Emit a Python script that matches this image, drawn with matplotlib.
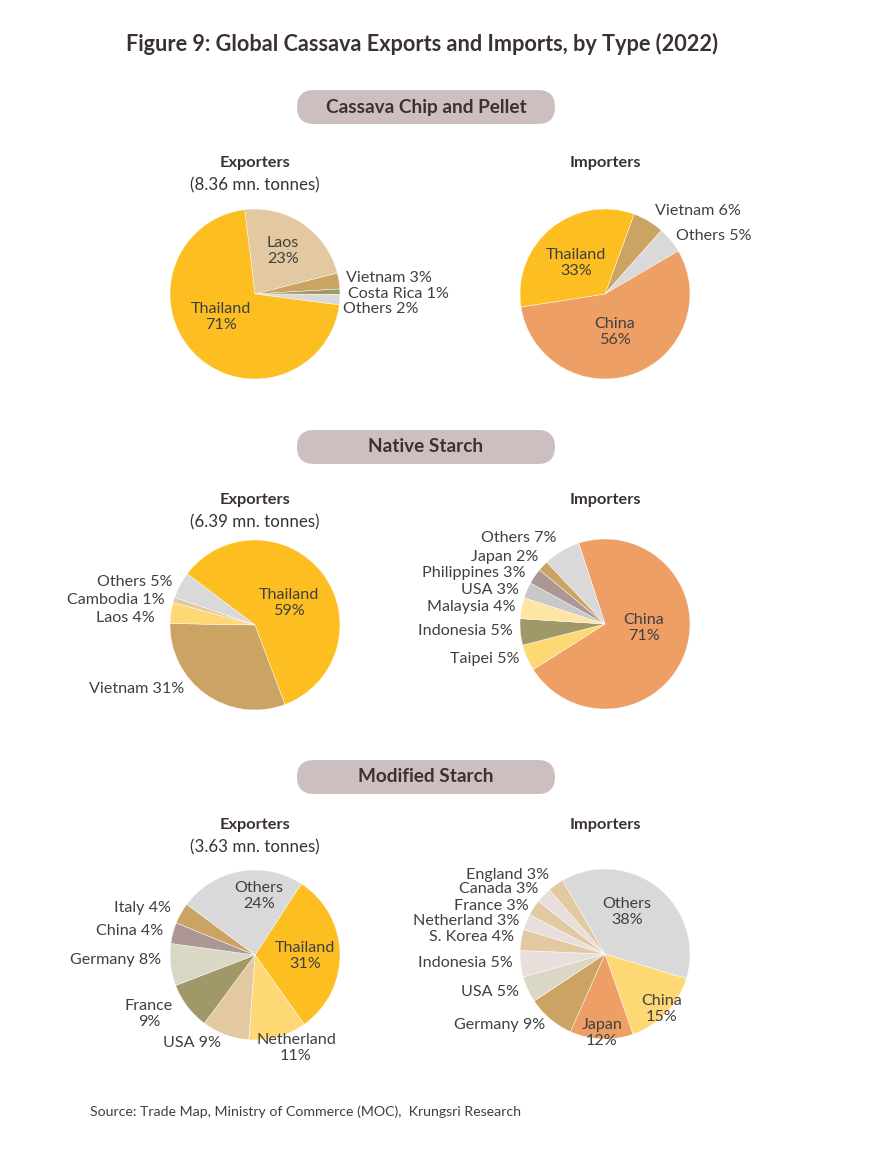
import matplotlib.pyplot as plt
from matplotlib.patches import FancyBboxPatch

plt.rcParams['font.family'] = ['Lato', 'DejaVu Sans']

# data
chip_exp_labels = ['Laos', 'Vietnam', 'Costa Rica', 'Others', 'Thailand']
chip_exp_values = [23, 3, 1, 2, 71]
chip_imp_labels = ['Vietnam', 'Others', 'China', 'Thailand']
chip_imp_values = [6, 5, 56, 33]

nat_exp_labels = ['Thailand', 'Vietnam', 'Laos', 'Cambodia', 'Others']
nat_exp_values = [59, 31, 4, 1, 5]
nat_imp_labels = ['China', 'Taipei', 'Indonesia', 'Malaysia', 'USA', 'Philippines', 'Japan', 'Others']
nat_imp_values = [71, 5, 5, 4, 3, 3, 2, 7]

mod_exp_labels = ['Thailand', 'Netherland', 'USA', 'France', 'Germany', 'China', 'Italy', 'Others']
mod_exp_values = [31, 11, 9, 9, 8, 4, 4, 24]
mod_imp_labels = ['Others', 'China', 'Japan', 'Germany', 'USA', 'Indonesia', 'S. Korea',
                  'Netherland', 'France', 'Canada', 'England']
mod_imp_values = [38, 15, 12, 9, 5, 5, 4, 3, 3, 3, 3]

sections = ['Cassava Chip and Pellet', 'Native Starch', 'Modified Starch']
exp_totals = ['8.36', '6.39', '3.63']

YEL = '#FDBE21'
BEI = '#E2C9A2'
TAN = '#CBA463'
OLI = '#A09868'
GRY = '#D9D9D9'
ORA = '#ED9F66'
LYE = '#FFD876'
PYE = '#FFE5A3'
MGR = '#C8C8C8'
MAU = '#AC9795'
STO = '#DAD7C4'
PNK = '#E8DEDC'

TXT = '#404040'
H = 1158

fig = plt.figure(figsize=(8.7, 11.58), dpi=100)
ax = fig.add_axes([0, 0, 1, 1])


def pie(cx, cy, labels, values, colors, start, lab):
    # lab: per label (x, y, ha, two lines?) in pixels
    ax.pie(values, colors=colors, startangle=start, counterclock=False,
           center=(cx, H - cy), radius=85, frame=True,
           wedgeprops=dict(edgecolor='white', linewidth=0.3))
    for name, v, (x, y, ha, two) in zip(labels, values, lab):
        s = f'{name}\n{v}%' if two else f'{name} {v}%'
        ax.text(x, H - y, s, ha=ha, va='center', fontsize=11.6, color=TXT,
                linespacing=1.15)


pie(255, 294, chip_exp_labels, chip_exp_values, [BEI, TAN, OLI, GRY, YEL], 97,
    [(283, 251, 'center', True), (346, 278, 'left', False), (348, 294, 'left', False),
     (343, 309, 'left', False), (221, 317, 'center', True)])
pie(605, 294, chip_imp_labels, chip_imp_values, [TAN, GRY, ORA, YEL], 70,
    [(655, 211, 'left', False), (676, 236, 'left', False),
     (615, 332, 'center', True), (576, 263, 'center', True)])

pie(255, 625, nat_exp_labels, nat_exp_values, [YEL, TAN, LYE, BEI, GRY], 143,
    [(289, 603, 'center', True), (184, 689, 'right', False), (155, 618, 'right', False),
     (165, 600, 'right', False), (173, 582, 'right', False)])
pie(605, 624, nat_imp_labels, nat_imp_values, [ORA, LYE, OLI, PYE, MGR, MAU, TAN, GRY], 108,
    [(644, 628, 'center', True), (520, 659, 'right', False), (513, 631, 'right', False),
     (516, 607, 'right', False), (519, 590, 'right', False), (526, 573, 'right', False),
     (538, 557, 'right', False), (557, 538, 'right', False)])

pie(255, 955, mod_exp_labels, mod_exp_values, [YEL, LYE, BEI, OLI, STO, MAU, TAN, GRY], 57,
    [(305, 956, 'center', True), (296, 1048, 'center', True), (221, 1043, 'right', False),
     (149, 1014, 'center', True), (161, 960, 'right', False), (163, 931, 'right', False),
     (171, 908, 'right', False), (259, 896, 'center', True)])
pie(605, 954, mod_imp_labels, mod_imp_values,
    [GRY, LYE, ORA, TAN, STO, PNK, BEI, PNK, BEI, PNK, BEI], 120,
    [(627, 912, 'center', True), (662, 1009, 'center', True), (602, 1033, 'center', True),
     (545, 1025, 'right', False), (519, 992, 'right', False), (513, 963, 'right', False),
     (514, 937, 'right', False), (519, 921, 'right', False), (529, 906, 'right', False),
     (538, 889, 'right', False), (549, 875, 'right', False)])

ax.set_xlim(0, 870)
ax.set_ylim(0, H)
ax.set_aspect('auto')
ax.axis('off')

ax.text(422, H - 44, 'Figure 9: Global Cassava Exports and Imports, by Type (2022)',
        ha='center', va='center', fontsize=15.6, fontweight='bold', color='#3B3134')

for name, py, sy, tot in zip(sections, [107, 447, 777], [163, 500, 825], exp_totals):
    ax.add_patch(FancyBboxPatch((297, H - py - 17), 258, 34,
                                boxstyle='round,pad=0,rounding_size=17',
                                fc='#CDBFBF', ec='none'))
    ax.text(426, H - py, name, ha='center', va='center', fontsize=13.7,
            fontweight='bold', color='#3B3134')
    ax.text(255, H - sy, 'Exporters', ha='center', va='center', fontsize=11.8,
            fontweight='bold', color='#3B3134')
    ax.text(255, H - sy - 22, f'({tot} mn. tonnes)', ha='center', va='center',
            fontsize=12.2, color='#3B3134')
    ax.text(605, H - sy, 'Importers', ha='center', va='center', fontsize=11.8,
            fontweight='bold', color='#3B3134')

ax.text(90, H - 1112, 'Source: Trade Map, Ministry of Commerce (MOC),  Krungsri Research',
        ha='left', va='center', fontsize=10.2, color=TXT)

fig.savefig('out.png', dpi=100)
